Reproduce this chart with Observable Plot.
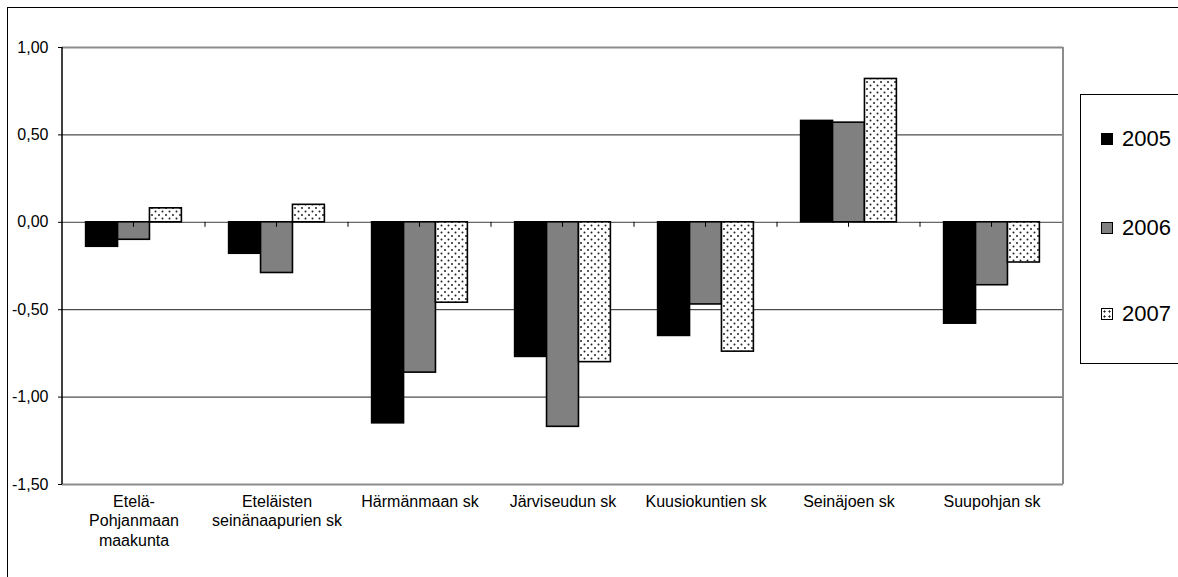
<!DOCTYPE html>
<html><head><meta charset="utf-8">
<script src="https://cdn.jsdelivr.net/npm/d3@7"></script>
<script src="https://cdn.jsdelivr.net/npm/@observablehq/plot@0.6"></script>
<style>
body{margin:0;background:#fff;overflow:hidden;font-family:"Liberation Sans",Arial,sans-serif}
#wrap{position:relative;width:1178px;height:577px;overflow:hidden;background:#fff}
#frame{position:absolute;left:7px;top:7px;width:1300px;height:700px;border:1.5px solid #000}
#chart{position:absolute;left:0;top:0}
#legend{position:absolute;left:1080px;top:94px;width:150px;height:268px;border:1px solid #000;background:#fff}
.item{position:absolute;left:20px;display:flex;align-items:center;font-size:22px;line-height:1;color:#000}
.sw{width:12px;height:12px;border:1.5px solid #000;box-sizing:border-box;margin-right:9px}
</style></head><body>
<div id="wrap"><div id="frame"></div><div id="chart"></div><div id="legend"></div></div>
<script>
const categories = ["Etelä-\nPohjanmaan\nmaakunta", "Eteläisten\nseinänaapurien sk", "Härmänmaan sk", "Järviseudun sk", "Kuusiokuntien sk", "Seinäjoen sk", "Suupohjan sk"];
const years = ["2005", "2006", "2007"];
const v2005 = [-0.14, -0.18, -1.15, -0.77, -0.65, 0.58, -0.58];
const v2006 = [-0.10, -0.29, -0.86, -1.17, -0.47, 0.57, -0.36];
const v2007 = [0.08, 0.10, -0.46, -0.80, -0.74, 0.82, -0.23];
const yTicks = [1, 0.5, 0, -0.5, -1, -1.5];
const gridValues = [0.5, -0.5, -1];
const yearFills = ["#000000", "#808080", "url(#dots)"];

const series = [v2005, v2006, v2007];
const data = categories.flatMap((c, i) => years.map((yr, j) => ({cat: c, year: yr, value: series[j][i]})));

let facetCount = 0;
function decor(index, scales, values, dims) {
  const i = facetCount++;
  const x = scales.x, y = scales.y;
  const xr = x.range ? x.range() : [dims.marginLeft, dims.width - dims.marginRight];
  const y0 = y(0);
  const g = d3.create("svg:g");
  if (i === 0) {
    const defs = g.append("defs");
    const p = defs.append("pattern").attr("id", "dots").attr("patternUnits", "userSpaceOnUse")
      .attr("width", 7).attr("height", 7);
    p.append("rect").attr("width", 7).attr("height", 7).attr("fill", "#fff");
    p.append("circle").attr("cx", 1.5).attr("cy", 1.5).attr("r", 1).attr("fill", "#222");
    p.append("circle").attr("cx", 5).attr("cy", 5).attr("r", 1).attr("fill", "#222");
    g.append("line").attr("x1", xr[0]).attr("x2", xr[0])
      .attr("y1", y(yTicks[0])).attr("y2", y(yTicks[yTicks.length - 1]))
      .attr("stroke", "#000").attr("stroke-width", 1.5);
  }
  [(xr[0] + xr[1]) / 2, xr[1]].forEach(px => {
    g.append("line").attr("x1", px).attr("x2", px).attr("y1", y0).attr("y2", y0 + 5)
      .attr("stroke", "#000").attr("stroke-width", 1);
  });
  if (i === categories.length - 1) {
    g.append("line").attr("x1", xr[1]).attr("x2", xr[1])
      .attr("y1", y(yTicks[0])).attr("y2", y(yTicks[yTicks.length - 1]))
      .attr("stroke", "#8c8c8c").attr("stroke-width", 2);
  }
  return g.node();
}

const chart = Plot.plot({
  width: 1080, height: 577,
  marginLeft: 62, marginRight: 17, marginTop: 47, marginBottom: 93,
  style: {fontFamily: "Liberation Sans, Arial, sans-serif", background: "transparent", color: "#000"},
  fx: {domain: categories, padding: 0, round: false, label: null},
  x: {domain: years, paddingInner: 0, paddingOuter: 0.74, round: false, axis: null},
  y: {domain: [-1.5, 1], label: null},
  color: {domain: years, range: yearFills},
  marks: [
    Plot.ruleY(gridValues, {stroke: "#222", strokeWidth: 1}),
    Plot.ruleY([yTicks[0], yTicks[yTicks.length - 1]], {stroke: "#8c8c8c", strokeWidth: 2}),
    Plot.ruleY([0], {stroke: "#666", strokeWidth: 1.2}),
    Plot.barY(data, {fx: "cat", x: "year", y: "value", fill: "year", stroke: "#000", strokeWidth: 1.6}),
    decor,
    Plot.axisY(yTicks, {tickSize: 4, tickPadding: 10, fontSize: 16, label: null,
      tickFormat: d => d.toFixed(2).replace(".", ",")}),
    Plot.axisFx({anchor: "bottom", tickSize: 0, tickPadding: 9, fontSize: 16, lineHeight: 1.2, label: null})
  ]
});
document.getElementById("chart").appendChild(chart);

const legend = document.getElementById("legend");
const rowTops = [44, 133, 219];
years.forEach((yr, j) => {
  const item = document.createElement("div");
  item.className = "item";
  item.style.top = (rowTops[j] - 11) + "px";
  const sw = document.createElement("span");
  sw.className = "sw";
  if (j === 2) {
    sw.style.background = "radial-gradient(circle, #222 0.9px, transparent 1.2px) 0 0/5px 5px, #fff";
  } else {
    sw.style.background = yearFills[j];
  }
  item.appendChild(sw);
  const t = document.createElement("span");
  t.textContent = yr;
  item.appendChild(t);
  legend.appendChild(item);
});
</script>
</body></html>
